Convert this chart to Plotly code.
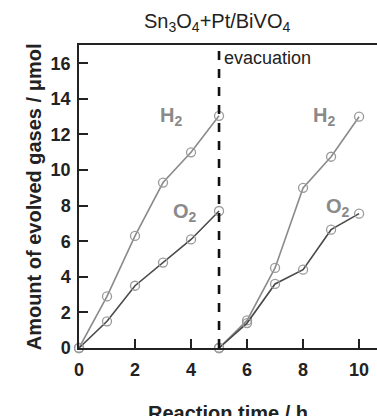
import plotly.graph_objects as go

# Data
t_run1 = [0, 1, 2, 3, 4, 5]
h2_run1 = [0, 2.9, 6.3, 9.3, 11.0, 13.05]
o2_run1 = [0, 1.5, 3.5, 4.8, 6.1, 7.7]
t_run2 = [5, 6, 7, 8, 9, 10]
h2_run2 = [0, 1.55, 4.5, 9.0, 10.75, 13.0]
o2_run2 = [0, 1.4, 3.6, 4.4, 6.65, 7.55]
x_ticks = [0, 2, 4, 6, 8, 10]
y_ticks = [0, 2, 4, 6, 8, 10, 12, 14, 16]
evac_time = 5

H2_COLOR = "#8a8a8a"
O2_COLOR = "#4a4a4a"
MARK_COLOR = "#9a9a9a"
FONT = "Liberation Sans, Arial, sans-serif"

fig = go.Figure()

def add_series(x, y, color):
    fig.add_trace(go.Scatter(
        x=x, y=y, mode="lines+markers",
        line=dict(color=color, width=1.6),
        marker=dict(symbol="circle-open", size=9, color=MARK_COLOR, line=dict(width=1.3, color=MARK_COLOR)),
        cliponaxis=False, showlegend=False, hoverinfo="skip"))

add_series(t_run1, h2_run1, H2_COLOR)
add_series(t_run1, o2_run1, O2_COLOR)
add_series(t_run2, h2_run2, H2_COLOR)
add_series(t_run2, o2_run2, O2_COLOR)

fig.add_shape(type="line", xref="x", yref="paper", x0=evac_time, x1=evac_time, y0=0, y1=1,
              line=dict(color="#111", width=2.6, dash="dash"))

anns = [
    dict(x=3.29, y=13.0, text="<b>H<sub>2</sub></b>", color=H2_COLOR),
    dict(x=8.75, y=13.0, text="<b>H<sub>2</sub></b>", color=H2_COLOR),
    dict(x=3.79, y=7.6, text="<b>O<sub>2</sub></b>", color=H2_COLOR),
    dict(x=9.25, y=7.9, text="<b>O<sub>2</sub></b>", color=H2_COLOR),
]
for a in anns:
    fig.add_annotation(x=a["x"], y=a["y"], xref="x", yref="y", text=a["text"], showarrow=False,
                       font=dict(family=FONT, size=20, color=a["color"]))

fig.add_annotation(x=evac_time, y=16.3, xref="x", yref="y", text="evacuation", showarrow=False,
                   xanchor="left", xshift=3, font=dict(family=FONT, size=18, color="#222"))

fig.add_annotation(x=0.463, y=1.123, xref="paper", yref="paper",
                   text="Sn<sub>3</sub>O<sub>4</sub>+Pt/BiVO<sub>4</sub>", showarrow=False,
                   font=dict(family=FONT, size=20, color="#222"))
fig.add_annotation(x=0.5, y=-0.172, xref="paper", yref="paper", text="<b>Reaction time / h</b>",
                   showarrow=False, yanchor="top", font=dict(family=FONT, size=20, color="#222"))
fig.add_annotation(x=-0.194, y=0.498, xref="paper", yref="paper", text="<b>Amount of evolved gases / μmol</b>",
                   showarrow=False, textangle=-90, font=dict(family=FONT, size=20, color="#222"))

fig.update_layout(
    width=377, height=416,
    margin=dict(l=79, r=0, t=45, b=68),
    plot_bgcolor="white", paper_bgcolor="white",
    font=dict(family=FONT, color="#222"),
)
fig.update_xaxes(range=[0, 10.64], tickvals=x_ticks, ticks="inside", ticklen=9, tickwidth=1.5,
                 tickcolor="#222", showline=True, linecolor="#222", linewidth=1.5, mirror=True,
                 showgrid=False, zeroline=False, tickfont=dict(family=FONT, size=18, color="#222", weight="bold"),
                 ticklabelstandoff=5)
fig.update_yaxes(range=[0, 17.03], tickvals=y_ticks, ticks="inside", ticklen=9, tickwidth=1.5,
                 tickcolor="#222", showline=True, linecolor="#222", linewidth=1.5, mirror=False,
                 showgrid=False, zeroline=False, tickfont=dict(family=FONT, size=18, color="#222", weight="bold"),
                 ticklabelstandoff=3)

fig.write_html("out.html")
